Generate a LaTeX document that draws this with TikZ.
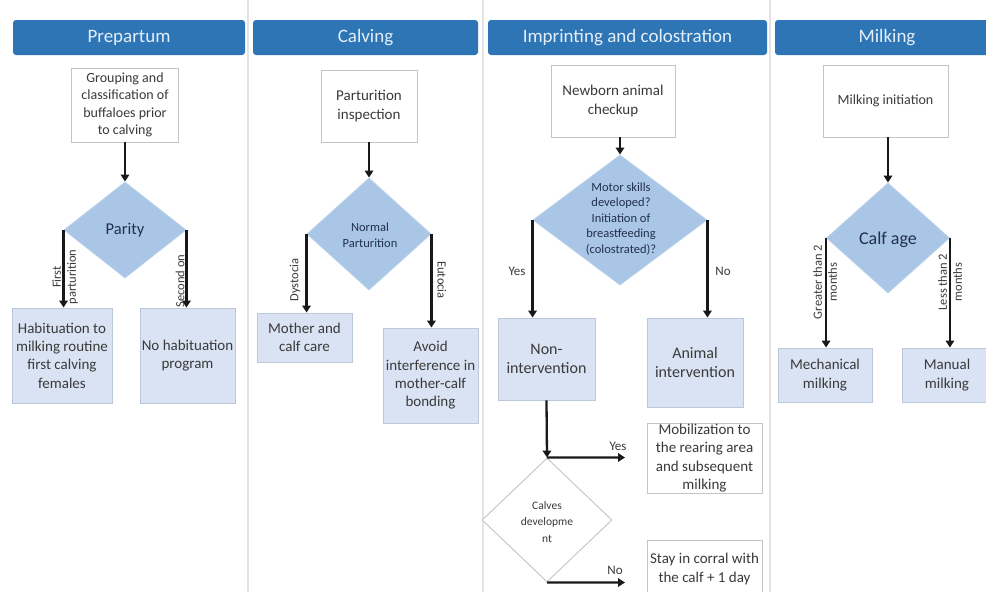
\documentclass[tikz,border=0pt]{standalone}
\usepackage{fontspec}
\setmainfont{Carlito}
\usetikzlibrary{arrows.meta,shapes.geometric}
\definecolor{hdrblue}{HTML}{2E75B6}
\definecolor{hdrtext}{HTML}{E4EEF8}
\definecolor{boxfill}{HTML}{DAE3F3}
\definecolor{boxline}{HTML}{BCC8DA}
\definecolor{dmdfill}{HTML}{A9C6E6}
\definecolor{dmdline}{HTML}{B9D0EA}
\definecolor{greyline}{HTML}{C4C4C4}
\definecolor{sepline}{HTML}{E4E4E4}
\definecolor{txt}{HTML}{3A3A3A}
\definecolor{dmdtxt}{HTML}{22304C}
\newcommand{\fs}[2]{\fontsize{#1}{#2}\selectfont}
\tikzset{
  header/.style={fill=hdrblue, rounded corners=3pt, text=hdrtext, font=\fs{19}{21}, minimum height=35, inner sep=0},
  whitebox/.style={draw=greyline, line width=0.9pt, fill=white, text=txt, align=center, inner sep=0, font=\fs{14}{17.5}},
  bluebox/.style={draw=boxline, line width=0.9pt, fill=boxfill, text=txt, align=center, inner sep=0, font=\fs{15}{18.3}},
  decision/.style={diamond, draw=dmdline, line width=0.9pt, fill=dmdfill, inner sep=0},
  dtext/.style={text=dmdtxt, align=center, inner sep=0},
  arr/.style={draw=black!90, line width=2.3pt, -{Triangle[length=7pt,width=8.5pt]}},
  elabel/.style={text=txt, align=center, inner sep=0, font=\fs{12.5}{15}},
}
\begin{document}
\begin{tikzpicture}[x=1pt,y=-1pt]
\useasboundingbox (0,0) rectangle (986,592);
\fill[white] (0,0) rectangle (986,592);

% column separators
\foreach \sx in {248,483,770}
  \draw[sepline, line width=1.5pt] (\sx,0) -- (\sx,592);

% column headers
\node[header, minimum width=232] (h1) at (129,37.5) {Prepartum};
\node[header, minimum width=225] (h2) at (365.5,37.5) {Calving};
\node[header, minimum width=279] (h3) at (627.5,37.5) {Imprinting and colostration};
\node[header, minimum width=224] (h4) at (887,37.5) {Milking};

% ---------- Prepartum ----------
\node[whitebox, minimum width=107, minimum height=74] (grp) at (125,105)
  {Grouping and\\classification of\\buffaloes prior\\to calving};
\node[decision, minimum width=122, minimum height=96] (par) at (125,230) {};
\node[dtext, font=\fs{16.5}{18}] at (par) {Parity};
\node[bluebox, minimum width=100, minimum height=95] (hab) at (62,355.5)
  {Habituation to\\milking routine\\first calving\\females};
\node[bluebox, minimum width=95, minimum height=95] (noh) at (187.5,355.5)
  {No habituation\\program};
\draw[arr] (grp.south) -- (par.north);
\draw[arr] (par.west) -- (par.west |- hab.north);
\draw[arr] (par.east) -- (par.east |- noh.north);
\node[elabel, rotate=90] (l1) at (65,277) {First\\parturition};
\node[elabel, rotate=90] (l2) at (180,281) {Second on};

% ---------- Calving ----------
\node[whitebox, minimum width=96, minimum height=72, font=\fs{15}{18.3}] (pin) at (369,106)
  {Parturition\\inspection};
\node[decision, minimum width=124, minimum height=112] (npa) at (369,234) {};
\node[dtext, font=\fs{12.5}{15.5}] at (370,235) {Normal\\Parturition};
\node[bluebox, minimum width=95, minimum height=49] (mcc) at (304.5,337.5)
  {Mother and\\calf care};
\node[bluebox, minimum width=95, minimum height=95] (avo) at (430.5,375.5)
  {Avoid\\interference in\\mother-calf\\bonding};
\draw[arr] (pin.south) -- (npa.north);
\draw[arr] (npa.west) -- (npa.west |- mcc.north);
\draw[arr] (npa.east) -- (npa.east |- avo.north);
\node[elabel, rotate=90] (l3) at (295,280) {Dystocia};
\node[elabel, rotate=-90] (l4) at (442,280) {Eutocia};

% ---------- Imprinting and colostration ----------
\node[whitebox, minimum width=124, minimum height=72, font=\fs{15}{18.3}] (nbc) at (613,101)
  {Newborn animal\\checkup};
\node[decision, minimum width=174, minimum height=130] (msk) at (620,220) {};
\node[dtext, font=\fs{12.5}{15.5}] at (621,219)
  {Motor skills\\developed?\\Initiation of\\breastfeeding\\(colostrated)?};
\node[bluebox, minimum width=97, minimum height=82, font=\fs{16}{18.3}] (non) at (546.5,359)
  {Non-\\intervention};
\node[bluebox, minimum width=96, minimum height=89, font=\fs{16}{18.3}] (ani) at (695,362.5)
  {Animal\\intervention};
\draw[arr] (nbc.south -| msk.north) -- (msk.north);
\draw[arr] (msk.west) -- (msk.west |- non.north);
\draw[arr] (msk.east) -- (msk.east |- ani.north);
\node[elabel, font=\fs{13}{15}] (l5) at (517,271) {Yes};
\node[elabel, font=\fs{13}{15}] (l6) at (723,271) {No};

\node[diamond, draw=greyline, line width=0.9pt, fill=white, inner sep=0,
      minimum width=130, minimum height=124] (cdv) at (547,520) {};
\node[dtext, text=txt, font=\fs{11.5}{16.5}] at (547,522) {Calves\\developme\\nt};
\node[whitebox, minimum width=115, minimum height=70, font=\fs{15}{18.3}] (mob) at (704.5,458)
  {Mobilization to\\the rearing area\\and subsequent\\milking};
\node[whitebox, minimum width=115, minimum height=58, font=\fs{15}{19}] (sty) at (704.5,569)
  {Stay in corral with\\the calf + 1 day};
\coordinate (yesend) at (625,457.5);
\coordinate (noend) at (625,582.5);
\draw[arr] (non.south) -- (cdv.north);
\draw[arr] (cdv.north) -- (yesend);
\draw[arr] (cdv.south) -- (noend);
\node[elabel, font=\fs{13}{15}] (l7) at (618,446) {Yes};
\node[elabel, font=\fs{13}{15}] (l8) at (615,570) {No};

% ---------- Milking ----------
\node[whitebox, minimum width=125, minimum height=72] (min) at (885.5,101)
  {Milking initiation};
\node[decision, minimum width=123, minimum height=110] (cag) at (888,238) {};
\node[dtext, font=\fs{18}{20}] at (888,240) {Calf age};
\node[bluebox, minimum width=94, minimum height=54] (mec) at (825,375)
  {Mechanical\\milking};
\node[bluebox, minimum width=90, minimum height=54] (man) at (947,375)
  {Manual\\milking};
\draw[arr] (min.south -| cag.north) -- (cag.north);
\draw[arr] (cag.west) -- (cag.west |- mec.north);
\draw[arr] (cag.east) -- (cag.east |- man.north);
\node[elabel, rotate=90] (l9) at (825,282) {Greater than 2\\months};
\node[elabel, rotate=90] (l10) at (950,282) {Less than 2\\months};
\end{tikzpicture}
\end{document}
